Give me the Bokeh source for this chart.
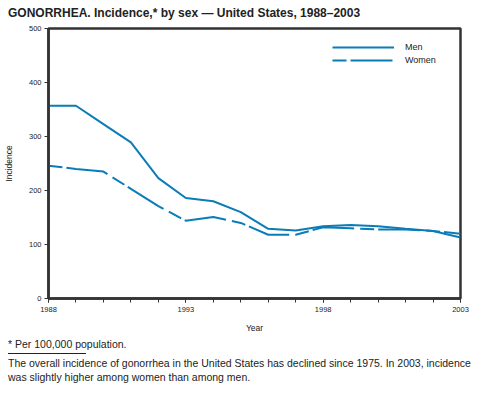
from bokeh.plotting import figure
from bokeh.models import Legend, LegendItem, Range1d, FixedTicker, Div
from bokeh.layouts import column
from bokeh.embed import file_html
from bokeh.resources import INLINE

years = list(range(1988, 2004))
men = [357, 357, 323, 289, 223, 186, 180, 160, 129, 126, 134, 136, 134, 129, 125, 113]
women = [246, 240, 235, 203, 171, 144, 151, 140, 118, 118, 132, 130, 128, 128, 125, 120]
x_labels = [1988, 1993, 1998, 2003]
y_ticks = [0, 100, 200, 300, 400, 500]

BLUE = "#0a7cb8"
AX = "#333333"
FONT = "Liberation Sans"

title_div = Div(text="GONORRHEA. Incidence,* by sex \u2014 United States, 1988\u20132003",
                width=471, height=22, margin=0,
                styles={"font-family": FONT, "font-size": "12px", "font-weight": "bold",
                        "color": "#222222", "line-height": "14px", "padding-top": "6px",
                        "padding-left": "8px", "white-space": "nowrap"})

p = figure(width=471, height=316, output_backend="svg", toolbar_location=None,
           x_range=Range1d(1988, 2003), y_range=Range1d(0, 500),
           min_border_left=48, min_border_right=11, min_border_top=6, min_border_bottom=40)
p.outline_line_color = AX
p.outline_line_width = 2.5
p.xgrid.visible = False
p.ygrid.visible = False
p.background_fill_color = "white"
p.border_fill_color = "white"

for ax in (p.xaxis[0], p.yaxis[0]):
    ax.axis_line_color = AX
    ax.axis_line_width = 2.5
    ax.major_tick_line_color = AX
    ax.minor_tick_line_color = AX
    ax.major_tick_in = 0
    ax.minor_tick_in = 0
    ax.major_tick_out = 4
    ax.minor_tick_out = 4
    ax.major_label_text_font = FONT
    ax.major_label_text_font_size = "7.5px"
    ax.major_label_text_color = "#222222"
    ax.axis_label_text_font = FONT
    ax.axis_label_text_font_size = "8.5px"
    ax.axis_label_text_font_style = "normal"
    ax.axis_label_text_color = "#222222"

p.xaxis.ticker = FixedTicker(ticks=x_labels, minor_ticks=years)
p.yaxis.ticker = FixedTicker(ticks=y_ticks)
p.yaxis.minor_tick_out = 0
p.xaxis.axis_label = "Year"
p.yaxis.axis_label = "Incidence"
p.xaxis.axis_label_standoff = 8
p.yaxis.axis_label_standoff = 12
p.xaxis.major_label_standoff = 4
p.yaxis.major_label_standoff = 3

r_men = p.line(years, men, line_color=BLUE, line_width=2)
r_women = p.line(years, women, line_color=BLUE, line_width=2, line_dash="14 4 42 6")

legend = Legend(items=[LegendItem(label="Men", renderers=[r_men]),
                       LegendItem(label="Women", renderers=[r_women])],
                location=(284, 233), border_line_color=None, background_fill_alpha=0,
                glyph_width=62, glyph_height=10, label_standoff=11, spacing=3,
                label_text_font=FONT, label_text_font_size="9px", label_text_color="#222222",
                margin=0, padding=4)
p.add_layout(legend)

footer_html = (
    '<div style="line-height:12px;">* Per 100,000 population.</div>'
    '<div style="width:78px;border-top:1px solid #222222;margin-top:3px;"></div>'
    '<div style="margin-top:2px;line-height:14px;">The overall incidence of gonorrhea in the United States '
    'has declined since 1975. In 2003, incidence<br>was slightly higher among women than among men.</div>'
)
footer_div = Div(text=footer_html, width=471, height=52, margin=0,
                 styles={"font-family": FONT, "font-size": "10.5px", "color": "#222222",
                         "padding-left": "8px", "white-space": "nowrap"})

layout = column(title_div, p, footer_div, spacing=0)
open("out.html", "w").write(file_html(layout, INLINE))
